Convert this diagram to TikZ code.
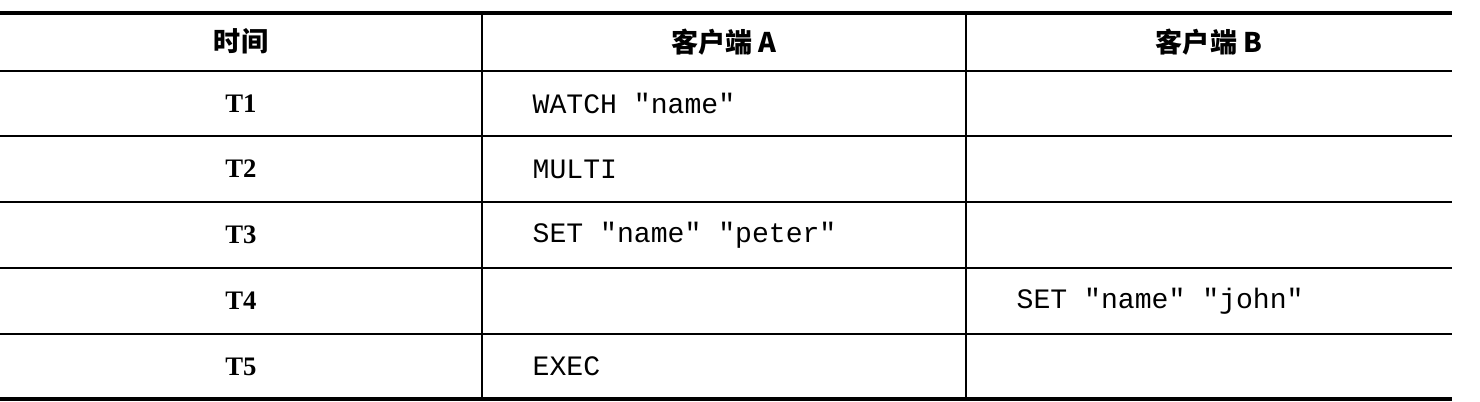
\documentclass[tikz,border=0pt]{standalone}
\usepackage{fontspec}
\setmainfont{Liberation Serif}
\setmonofont{Liberation Mono}
\newfontfamily\cjk{Noto Sans CJK SC}
\begin{document}
\begin{tikzpicture}[head/.style={font=\cjk\bfseries\fontsize{7.7}{9}\selectfont},
    tcell/.style={font=\bfseries\fontsize{7.6}{9}\selectfont},
    code/.style={anchor=west,inner sep=0pt,font=\ttfamily\fontsize{8}{9.6}\selectfont}]
      \useasboundingbox (0,0) rectangle (14.8,4.02);
      \draw [line width=1.15pt] (0,3.893) -- (14.52,3.893);
      \draw [line width=0.6pt] (0,3.313) -- (14.52,3.313);
      \draw [line width=0.6pt] (0,2.66) -- (14.52,2.66);
      \draw [line width=0.6pt] (0,2.0) -- (14.52,2.0);
      \draw [line width=0.6pt] (0,1.34) -- (14.52,1.34);
      \draw [line width=0.6pt] (0,0.68) -- (14.52,0.68);
      \draw [line width=0.9pt] (0,0.03) -- (14.52,0.03);
      \draw [line width=0.6pt] (4.82,3.893) -- (4.82,0.03);
      \draw [line width=0.6pt] (9.66,3.893) -- (9.66,0.03);
      \node [head] (hTime) at (2.41,3.603) {时间};
      \node [head] (hA) at (7.24,3.603) {客户端 A};
      \node [head] (hB) at (12.09,3.603) {客户端 B};
      \node [tcell] (t1) at (2.41,2.987) {T1};
      \node [tcell] (t2) at (2.41,2.33) {T2};
      \node [tcell] (t3) at (2.41,1.67) {T3};
      \node [tcell] (t4) at (2.41,1.01) {T4};
      \node [tcell] (t5) at (2.41,0.355) {T5};
      \node [code] (a1) at (5.32,2.987) {WATCH "name"};
      \node [code] (a2) at (5.32,2.33) {MULTI};
      \node [code] (a3) at (5.32,1.67) {SET "name" "peter"};
      \node [code] (b4) at (10.16,1.01) {SET "name" "john"};
      \node [code] (a5) at (5.32,0.355) {EXEC};
\end{tikzpicture}
\end{document}
